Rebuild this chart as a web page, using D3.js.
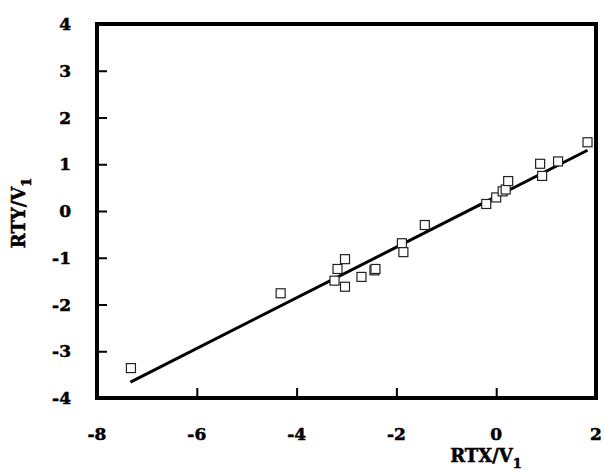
<!DOCTYPE html>
<html>
<head>
<meta charset="utf-8">
<script src="https://cdn.jsdelivr.net/npm/d3@7"></script>
<style>
  body { margin: 0; background: #fff; }
  text { font-family: "DejaVu Serif", serif; font-weight: bold; fill: #000; stroke: #000; stroke-width: 0.5px; }
</style>
</head>
<body>
<div id="chart"></div>
<script>
// measured points RTX/V1 vs RTY/V1
const rtx = [-7.32, -4.32, -3.24, -3.18, -3.03, -3.03, -2.70, -2.44, -2.42, -1.89, -1.86, -1.43,
             -0.20, 0.00, 0.13, 0.19, 0.24, 0.88, 0.92, 1.24, 1.83];
const rty = [-3.36, -1.76, -1.49, -1.24, -1.03, -1.62, -1.41, -1.27, -1.24, -0.69, -0.88, -0.30,
             0.15, 0.29, 0.42, 0.46, 0.64, 1.01, 0.75, 1.06, 1.47];

// fitted line endpoints
const fitX = [-7.33, 1.83];
const fitY = [-3.66, 1.30];

const xTicks = [-8, -6, -4, -2, 0, 2];
const yTicks = [-4, -3, -2, -1, 0, 1, 2, 3, 4];

const W = 604, H = 474;
const mL = 97, mR = 596, mT = 24, mB = 398;

const svg = d3.select("#chart").append("svg")
    .attr("width", W)
    .attr("height", H);

const x = d3.scaleLinear().domain([-8, 2]).range([mL, mR]);
const y = d3.scaleLinear().domain([-4, 4]).range([mB, mT]);

// fit line
const pts = fitX.map((d, i) => [d, fitY[i]]);
svg.append("path")
    .datum(pts)
    .attr("fill", "none")
    .attr("stroke", "#000")
    .attr("stroke-width", 3)
    .attr("d", d3.line().x(d => x(d[0])).y(d => y(d[1])));

// squares
const data = rtx.map((d, i) => ({x: d, y: rty[i]}));
svg.append("g")
  .selectAll("rect")
  .data(data)
  .enter().append("rect")
    .attr("x", d => x(d.x) - 4.5)
    .attr("y", d => y(d.y) - 4.5)
    .attr("width", 9)
    .attr("height", 9)
    .attr("fill", "#fff")
    .attr("stroke", "#222")
    .attr("stroke-width", 1.2);

// axes with inward ticks
const xAxis = svg.append("g")
    .attr("transform", `translate(0,${mB})`)
    .call(d3.axisTop(x).tickValues(xTicks.slice(1, -1)).tickSize(10).tickFormat(""));
const yAxis = svg.append("g")
    .attr("transform", `translate(${mL},0)`)
    .call(d3.axisRight(y).tickValues(yTicks.slice(1, -1)).tickSize(10).tickFormat(""));
[xAxis, yAxis].forEach(g => {
  g.select(".domain").remove();
  g.selectAll("line").attr("stroke", "#000").attr("stroke-width", 2);
});

// frame
svg.append("rect")
    .attr("x", mL)
    .attr("y", mT)
    .attr("width", mR - mL)
    .attr("height", mB - mT)
    .attr("fill", "none")
    .attr("stroke", "#000")
    .attr("stroke-width", 4);

// tick labels
svg.append("g")
  .selectAll("text")
  .data(xTicks)
  .enter().append("text")
    .attr("x", d => x(d))
    .attr("y", 440)
    .attr("text-anchor", "middle")
    .style("font-size", "17px")
    .text(d => d);

svg.append("g")
  .selectAll("text")
  .data(yTicks)
  .enter().append("text")
    .attr("x", 71)
    .attr("y", d => y(d) + 6)
    .attr("text-anchor", "end")
    .style("font-size", "17px")
    .text(d => d);

// axis titles
const xt = svg.append("text")
    .attr("x", 486)
    .attr("y", 462)
    .attr("text-anchor", "middle")
    .style("font-size", "18px");
xt.append("tspan").text("RTX/V");
xt.append("tspan").attr("dy", 6).style("font-size", "13px").text("1");

const yt = svg.append("text")
    .attr("transform", "translate(25,213) rotate(-90)")
    .attr("text-anchor", "middle")
    .style("font-size", "18px");
yt.append("tspan").text("RTY/V");
yt.append("tspan").attr("dy", 6).style("font-size", "13px").text("1");
</script>
</body>
</html>
